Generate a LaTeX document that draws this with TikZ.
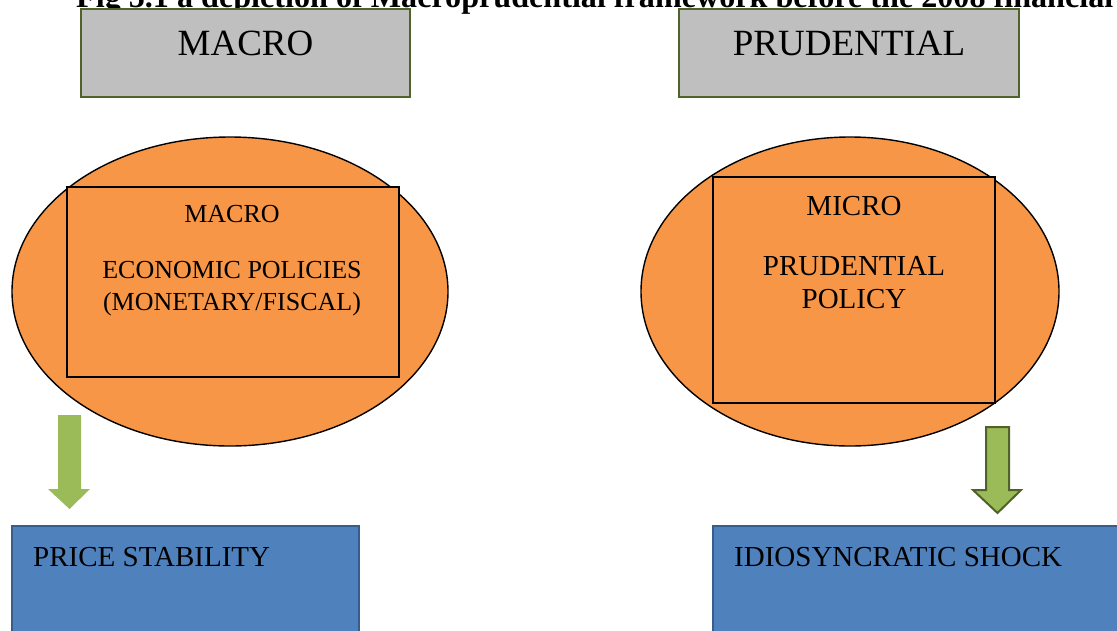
\documentclass[tikz,border=0pt]{standalone}
\usepackage{fontspec}
\usepackage{graphicx}
\setmainfont{Liberation Serif}
\usetikzlibrary{shapes.geometric}
\definecolor{boxgray}{HTML}{BFBFBF}
\definecolor{olive}{HTML}{4F6228}
\definecolor{orng}{HTML}{F79646}
\definecolor{grn}{HTML}{9BBB59}
\definecolor{blu}{HTML}{4F81BD}
\definecolor{bluedge}{HTML}{385D8A}
\tikzset{
  graybox/.style={rectangle, draw=olive, fill=boxgray, line width=2pt, inner sep=0},
  oval/.style={ellipse, draw=black, fill=orng, line width=1.4pt, inner sep=0},
  innerbox/.style={rectangle, draw=black, fill=orng, line width=2pt, inner sep=0},
  bluebox/.style={rectangle, draw=bluedge, fill=blu, line width=2pt, inner sep=0},
  txt/.style={inner sep=0, anchor=base},
  blockarrow/.style={fill=grn, line join=miter}
}
\begin{document}
\begin{tikzpicture}[x=1pt,y=-1pt]
\useasboundingbox (0,0) rectangle (1117,630);
\clip (0,0) rectangle (1117,630);

% title (cut off at top)
\node[inner sep=0, anchor=base west] (title) at (76,7)
  {\resizebox{1037pt}{!}{\bfseries Fig 5.1 a depiction of Macroprudential framework before the 2008 financial}};

% top gray boxes
\node[graybox, minimum width=329pt, minimum height=88pt] (macrobox) at (245.5,53) {};
\node[graybox, minimum width=340pt, minimum height=88pt] (prudbox) at (849,53) {};
\node[txt] (macrotxt) at (245.5,55) {\fontsize{37}{44}\selectfont MACRO};
\node[txt] (prudtxt) at (849,55) {\fontsize{37}{44}\selectfont PRUDENTIAL};

% ellipses
\node[oval, minimum width=436pt, minimum height=309pt] (ovl) at (230,291.5) {};
\node[oval, minimum width=418pt, minimum height=309pt] (ovr) at (850,291.5) {};

% inner boxes
\node[innerbox, minimum width=332pt, minimum height=190pt] (ibl) at (233,282) {};
\node[innerbox, minimum width=282pt, minimum height=226pt] (ibr) at (854,290) {};

\node[txt] (l1) at (232,222) {\fontsize{26}{31}\selectfont MACRO};
\node[txt] (l2) at (232,278) {\fontsize{26}{31}\selectfont ECONOMIC POLICIES};
\node[txt] (l3) at (232,310) {\fontsize{26}{31}\selectfont (MONETARY/FISCAL)};

\node[txt] (r1) at (854,215) {\fontsize{29}{34}\selectfont MICRO};
\node[txt] (r2) at (854,275) {\fontsize{29}{34}\selectfont PRUDENTIAL};
\node[txt] (r3) at (854,308) {\fontsize{29}{34}\selectfont POLICY};

% blue boxes
\node[bluebox, minimum width=347pt, minimum height=124pt] (price) at (185.5,588) {};
\node[bluebox, minimum width=417pt, minimum height=124pt] (idio) at (921.5,588) {};
\node[inner sep=0, anchor=base west] (pricetxt) at (33,566) {\fontsize{29}{34}\selectfont PRICE STABILITY};
\node[inner sep=0, anchor=base west] (idiotxt) at (734,566) {\fontsize{29}{34}\selectfont IDIOSYNCRATIC SHOCK};

% block arrows
\coordinate (la) at (69.5,415);
\coordinate (lt) at (69.5,509);
\fill[blockarrow] (58,415) -- (81,415) -- (81,489) -- (90,489) -- (lt) -- (48,489) -- (58,489) -- cycle;

\coordinate (ra) at (997.5,427);
\coordinate (rt) at (997.5,513);
\filldraw[blockarrow, draw=olive, line width=2pt] (986,427) -- (1009,427) -- (1009,490) -- (1021,490) -- (rt) -- (973,490) -- (986,490) -- cycle;
\end{tikzpicture}
\end{document}
